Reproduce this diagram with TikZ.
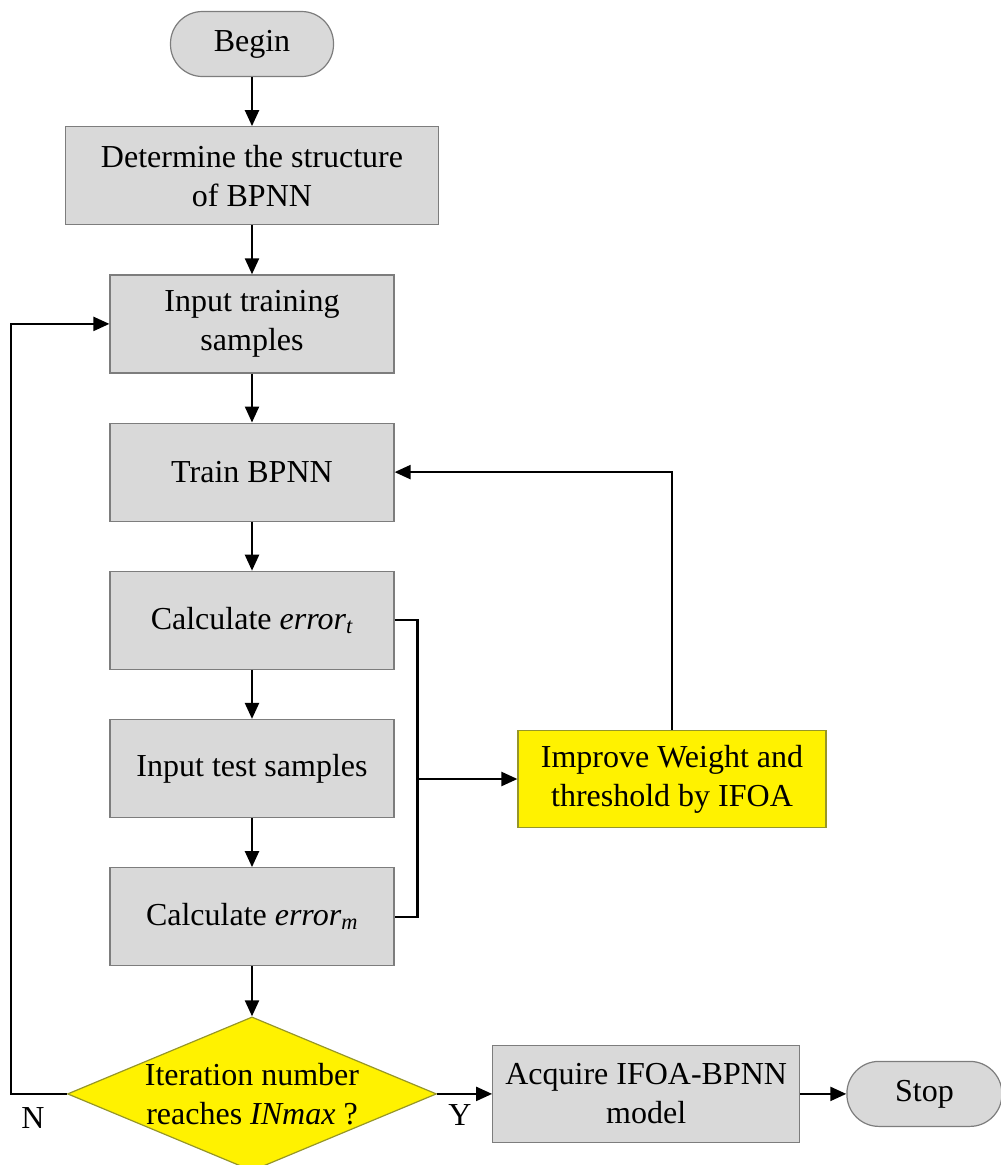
\documentclass[tikz,border=0pt]{standalone}
\usepackage{fontspec}
\setmainfont{Liberation Serif}
\usetikzlibrary{arrows.meta}
\usetikzlibrary{positioning, shapes.geometric}

\definecolor{boxgray}{RGB}{217,217,217}
\definecolor{boxline}{RGB}{125,125,125}
\definecolor{markline}{RGB}{150,150,40}

\begin{document}
\begin{tikzpicture}[x=1pt, y=1pt, node distance=49pt,
	font=\fontsize{32}{39}\selectfont,
	procbox/.style={rectangle, draw=boxline, fill=boxgray, line width=1.2pt, minimum width=284pt, minimum height=98pt, align=center, inner sep=2pt},
	termbox/.style={rectangle, rounded corners=32pt, draw=boxline, fill=boxgray, line width=1.2pt, minimum width=163pt, minimum height=65pt},
	markbox/.style={rectangle, draw=markline, fill=yellow, line width=1.2pt, minimum width=308pt, minimum height=97pt, align=center, inner sep=2pt},
	decision/.style={diamond, draw=markline, fill=yellow, line width=1.2pt, minimum width=369pt, minimum height=154pt, inner sep=0pt},
	flow/.style={line width=2.3pt, -{Triangle[length=16pt, width=14pt]}},
	link/.style={line width=2.3pt}]

	\useasboundingbox (0,0) rectangle (1001,-1165);

	% --- Main column ---
	
	% Begin
	\node[termbox] (begin) at (252,-44) {Begin};
	
	% Structure of the net
	\node[procbox, minimum width=373pt, below=of begin] (struct) {Determine the structure\\of BPNN};
	
	% Training samples
	\node[procbox, below=of struct] (trainin) {Input training\\samples};
	
	% Training
	\node[procbox, below=of trainin] (train) {Train BPNN};
	
	% Training error
	\node[procbox, below=of train] (errt) {Calculate \textit{error}\textsubscript{\textit{t}}};
	
	% Test samples
	\node[procbox, below=of errt] (testin) {Input test samples};
	
	% Test error
	\node[procbox, below=of testin] (errm) {Calculate \textit{error}\textsubscript{\textit{m}}};
	
	% Check
	\node[decision, below=50pt of errm] (check) {};
	\node[align=center] (checktext) at (check) {Iteration number\\reaches \textit{INmax} ?};
	
	% --- Side boxes ---
	
	% IFOA
	\node[markbox] (ifoa) at (672,-779) {Improve Weight and\\threshold by IFOA};
	
	% Result
	\node[procbox, minimum width=307pt, minimum height=97pt, right=55pt of check] (result) {Acquire IFOA-BPNN\\model};
	
	% Stop
	\node[termbox, minimum width=155pt, right=46pt of result] (stop) {Stop};
	
	% Labels of the branches
	\node (no) at (33,-1118) {N};
	\node (yes) at (460,-1115) {Y};
	
	% --- Connectors ---
	\draw[flow] (begin) -- (struct);
	\draw[flow] (struct) -- (trainin);
	\draw[flow] (trainin) -- (train);
	\draw[flow] (train) -- (errt);
	\draw[flow] (errt) -- (testin);
	\draw[flow] (testin) -- (errm);
	\draw[flow] (errm) -- (check.north);
	
	% errors to IFOA
	\coordinate[left=100pt of ifoa.west] (join);
	\draw[link] (errt.east) -| (join) |- (errm.east);
	\draw[flow] (join) -- (ifoa.west);
	\draw[flow] (ifoa.north) |- (train.east);
	
	% loop back
	\coordinate[left=56pt of check.west] (loop);
	\draw[flow] (check.west) -- (loop) |- (trainin.west);
	
	% end
	\draw[flow] (check.east) -- (result.west);
	\draw[flow] (result.east) -- (stop.west);
	
\end{tikzpicture}
\end{document}
